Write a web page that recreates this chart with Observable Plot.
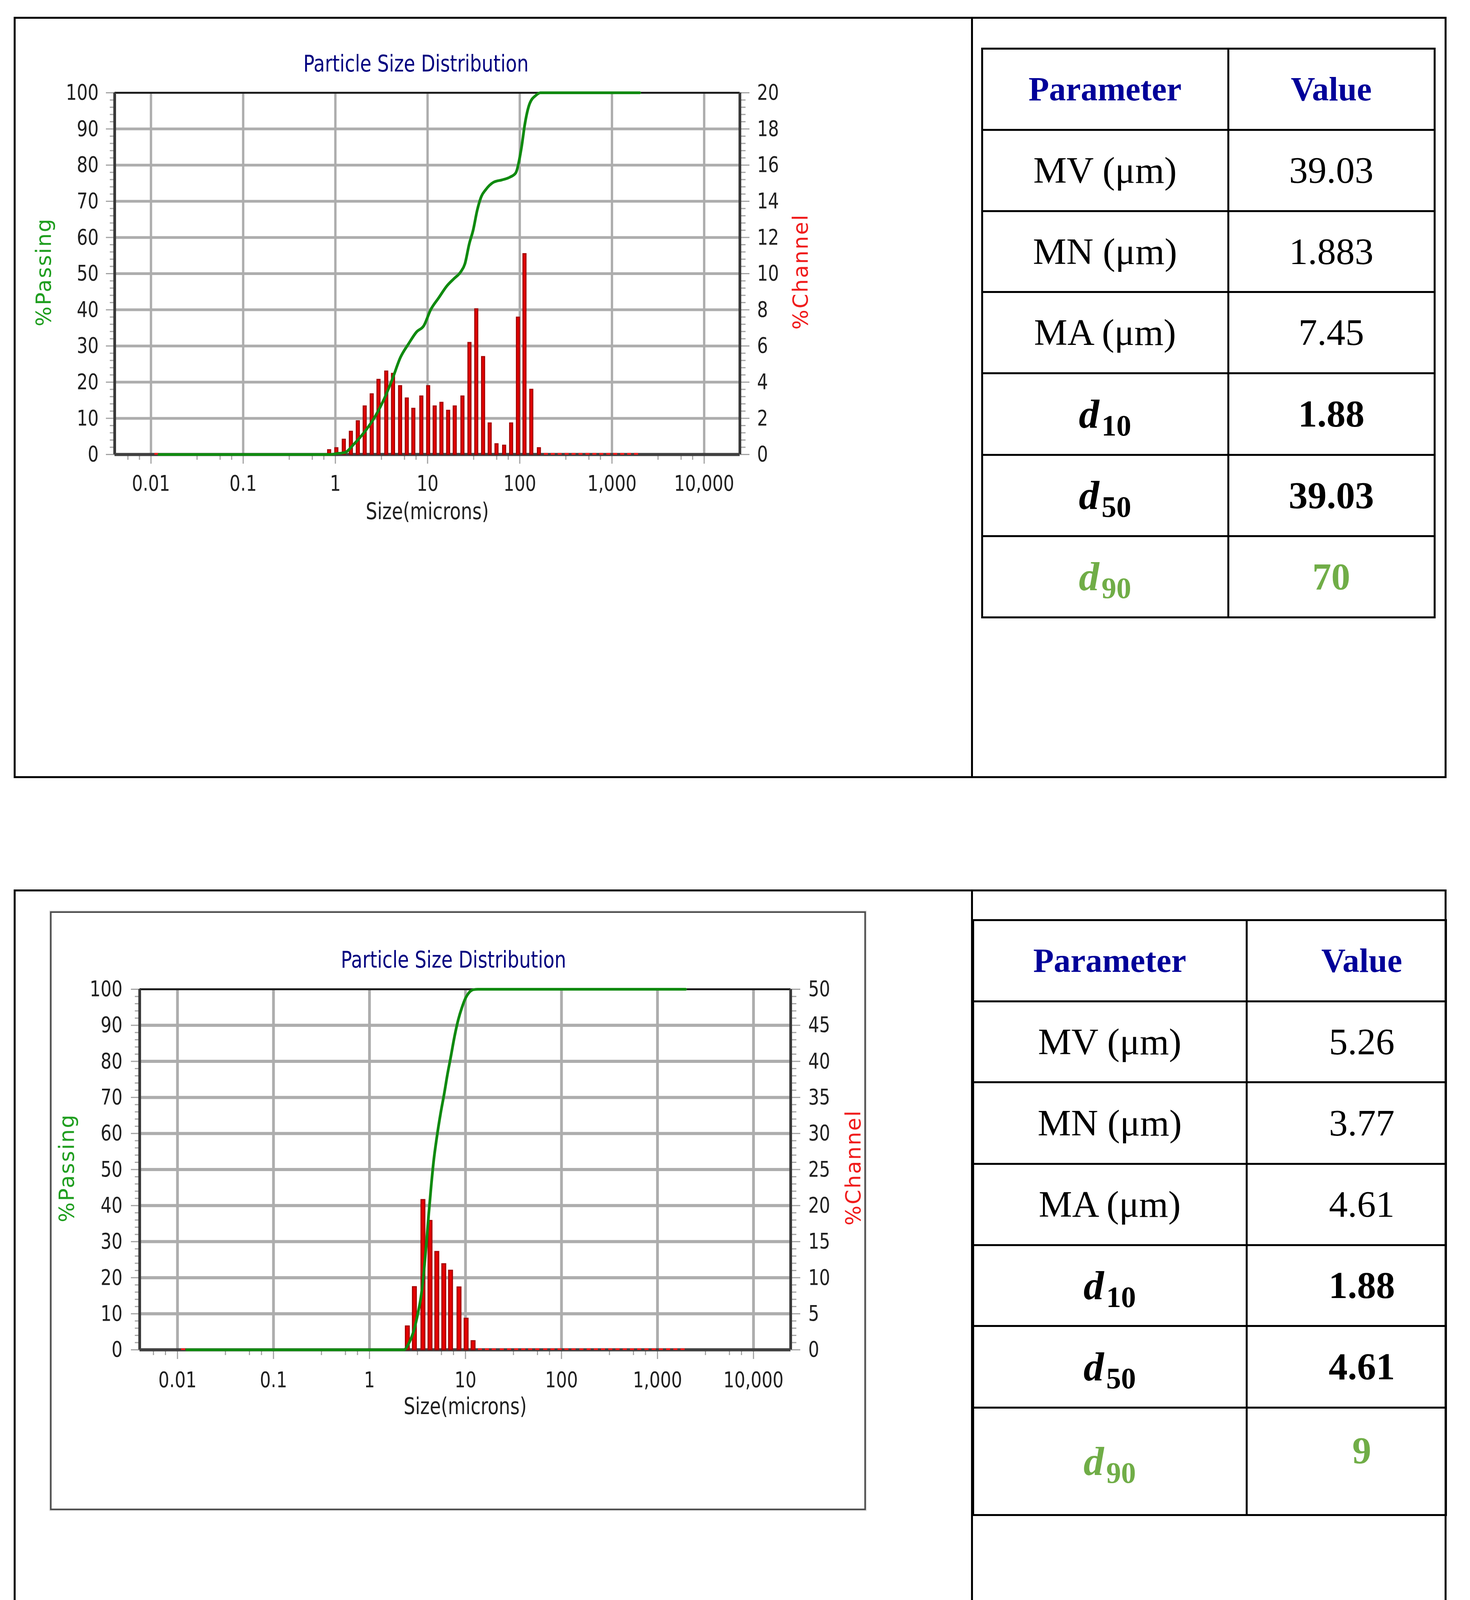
<!DOCTYPE html>
<html>
<head>
<meta charset="utf-8">
<script src="https://cdn.jsdelivr.net/npm/d3@7"></script>
<script src="https://cdn.jsdelivr.net/npm/@observablehq/plot@0.6"></script>
<style>
  html, body { margin: 0; padding: 0; background: #fff; }
  body { width: 3762px; height: 4276px; position: relative; overflow: hidden; }
  .abs { position: absolute; }
  .panel { position: absolute; border: 5px solid #000; box-sizing: border-box; }
  .ln { position: absolute; background: #000; }
  .cell { position: absolute; display: flex; align-items: center; justify-content: center;
          font-family: "Liberation Serif", "Times New Roman", serif; line-height: 1; color: #000; white-space: nowrap; }
  .hdr { font-weight: bold; color: #000099; font-size: 86px; }
  .reg { font-size: 96px; }
  .bold { font-weight: bold; font-size: 97px; }
  .dsym { font-style: italic; font-weight: bold; font-size: 104px; }
  .dsub { font-weight: bold; font-size: 76px; position: relative; top: 20px; margin-left: 6px; }
  .green { color: #70AD47; }
  .chartbox { position: absolute; border: 4px solid #4d4d4d; box-sizing: border-box; box-shadow: 0 0 2px 2px #d9d9d9; }
</style>
</head>
<body>
<script>
// ---------------- data ----------------
const xTickValues = [0.01, 0.1, 1, 10, 100, 1000, 10000];
const xTickLabels = ["0.01", "0.1", "1", "10", "100", "1,000", "10,000"];
const xMinorTicks = [0.00562, 0.0075, 0.0316, 0.0562, 0.075, 0.316, 0.562, 0.75, 3.16, 5.62, 7.5,
                     31.6, 56.2, 75, 316, 562, 750, 3160, 5620, 7500];
const passTicks = [0, 10, 20, 30, 40, 50, 60, 70, 80, 90, 100];
const passMinorTicks = [2, 4, 6, 8, 12, 14, 16, 18, 22, 24, 26, 28, 32, 34, 36, 38, 42, 44, 46, 48,
                        52, 54, 56, 58, 62, 64, 66, 68, 72, 74, 76, 78, 82, 84, 86, 88, 92, 94, 96, 98];
const channelTicks1 = [0, 2, 4, 6, 8, 10, 12, 14, 16, 18, 20];
const channelTicks2 = [0, 5, 10, 15, 20, 25, 30, 35, 40, 45, 50];

// chart 1 (top): %channel bars (right axis 0-20) and %passing curve (left axis 0-100)
const sizes1 = [0.86, 1.03, 1.24, 1.48, 1.76, 2.09, 2.49, 2.95, 3.58, 4.24, 5.06, 5.98, 7.04, 8.6, 10.2,
                12.0, 14.2, 16.8, 19.8, 24.0, 28.6, 33.9, 40.2, 47.4, 56.2, 68.0, 81.0, 96.0, 113, 134, 162];
const channel1 = [0.25, 0.36, 0.83, 1.27, 1.85, 2.67, 3.34, 4.14, 4.60, 4.47, 3.79, 3.11, 2.54, 3.22, 3.79,
                  2.67, 2.87, 2.43, 2.67, 3.22, 6.18, 8.04, 5.40, 1.73, 0.58, 0.50, 1.73, 7.58, 11.09, 3.59, 0.36];
const tailSizes1 = [0.0115, 193, 229, 272, 324, 385, 458, 545, 648, 771, 917, 1090, 1297, 1542, 1834];
const tailValue1 = 0.05;
const passSizes1 = [0.0122, 0.9, 1.0, 1.27, 1.58, 2.08, 2.74, 3.36, 4.13, 5.07, 6.22, 7.6, 9.1, 10.8, 13.2,
                    16.2, 19.3, 22.9, 25.4, 28.3, 31.2, 34.6, 38.4, 42.4, 52.2, 64, 78.6, 90.2, 105, 113,
                    128, 150, 167, 2000];
const passValues1 = [0, 0, 0.2, 0.55, 2.8, 6.3, 10.8, 15.2, 20.7, 26.8, 30.6, 33.9, 35.6, 40, 43.3,
                     46.6, 48.6, 50.5, 52.7, 58.2, 62, 67.6, 71.4, 73.1, 75.3, 75.9, 76.7, 77.8, 85.3, 91,
                     97, 99.3, 100, 100];

// chart 2 (bottom): %channel bars (right axis 0-50) and %passing curve
const sizes2 = [2.49, 2.95, 3.62, 4.29, 5.05, 5.97, 7.02, 8.6, 10.2, 12.05];
const channel2 = [3.27, 8.72, 20.8, 17.9, 13.6, 11.9, 11.0, 8.68, 4.34, 1.23];
const tailSizes2 = [0.0115, 14.2, 16.8, 19.8, 24.0, 28.6, 33.9, 40.2, 47.4, 56.2, 68, 81, 96, 113, 134, 162,
                    193, 229, 272, 324, 385, 458, 545, 648, 771, 917, 1090, 1297, 1542, 1834];
const tailValue2 = 0.12;
const passSizes2 = [0.0125, 2.28, 2.58, 2.93, 3.21, 3.42, 3.64, 3.88, 4.13, 4.39, 4.68, 5.0, 5.5, 6.0, 6.5,
                    7.0, 7.7, 8.4, 9.2, 10.0, 11.0, 12.2, 13.5, 1960];
const passValues2 = [0, 0, 1.9, 5.8, 10.4, 14.3, 20.2, 28.3, 37.3, 45.4, 52.8, 58.5, 65.5, 71, 76.5,
                     81, 87, 91.5, 95, 97.5, 99.2, 99.9, 100, 100];

// tables
const headerLabels = ["Parameter", "Value"];
const paramNames = ["MV (μm)", "MN (μm)", "MA (μm)"];
const dSubscripts = ["10", "50", "90"];
const values1 = ["39.03", "1.883", "7.45", "1.88", "39.03", "70"];
const values2 = ["5.26", "3.77", "4.61", "1.88", "4.61", "9"];
const chartTitle = "Particle Size Distribution";
const xLabel = "Size(microns)";
const leftLabel = "%Passing";
const rightLabel = "%Channel";

// ---------------- layout helpers ----------------
const xDomain = [0.00404, 24400];

function box(cls, x, y, w, h) {
  const d = document.createElement("div");
  d.className = cls;
  Object.assign(d.style, {left: x + "px", top: y + "px", width: w + "px", height: h + "px"});
  document.body.appendChild(d);
  return d;
}

function squeeze(svg, k) {
  svg.querySelectorAll("text").forEach(t => {
    const tr = t.getAttribute("transform") || "";
    if (!t.textContent) return;
    if (tr.includes("rotate")) { t.style.letterSpacing = "3px"; return; }
    const L = t.getComputedTextLength();
    if (L > 0) {
      t.setAttribute("textLength", (L * k).toFixed(1));
      t.setAttribute("lengthAdjust", "spacingAndGlyphs");
    }
  });
}

function drawChart(o) {
  const f = 100 / o.channelMax;
  const bars = o.sizes.map((s, i) => ({size: s, value: o.channel[i]}));
  const tails = o.tailSizes.map(s => ({size: s, value: o.tailValue}));
  const curve = o.passSizes.map((s, i) => ({size: s, pct: o.passValues[i]}));
  const xt = xTickValues.map((v, i) => ({v, label: xTickLabels[i]}));
  const font = "DejaVu Sans";
  const tickStyle = {tickFormat: () => "", stroke: "#a3a3a3", strokeWidth: 3, label: null};
  const svg = Plot.plot({
    width: o.width, height: o.height,
    marginLeft: o.ml, marginRight: o.mr, marginTop: o.mt, marginBottom: o.mb,
    x: {type: "log", domain: xDomain},
    y: {domain: [0, 100]},
    style: {background: "transparent", overflow: "visible", maxWidth: "none"},
    marks: [
      Plot.gridX(xTickValues, {stroke: "#adadad", strokeWidth: o.gx, strokeOpacity: 1}),
      Plot.gridY(passTicks.slice(1, -1), {stroke: "#adadad", strokeWidth: o.gy, strokeOpacity: 1}),
      Plot.axisX(xTickValues, {...tickStyle, tickSize: 24}),
      Plot.axisX(xMinorTicks, {...tickStyle, tickSize: 14}),
      Plot.axisY(passTicks, {...tickStyle, anchor: "left", tickSize: 22}),
      Plot.axisY(passMinorTicks, {...tickStyle, anchor: "left", tickSize: 12}),
      Plot.axisY(passTicks, {...tickStyle, anchor: "right", tickSize: 24}),
      Plot.axisY(passMinorTicks, {...tickStyle, anchor: "right", tickSize: 14}),
      Plot.ruleY([100], {stroke: "#1e1e1e", strokeWidth: 5}),
      Plot.ruleX([xDomain[0]], {stroke: "#3a3a3a", strokeWidth: 7}),
      Plot.ruleX([xDomain[1]], {stroke: "#3a3a3a", strokeWidth: 7}),
      Plot.ruleY([0], {stroke: "#404040", strokeWidth: 8}),
      Plot.rect(bars, {x1: d => d.size / o.barFactor, x2: d => d.size * o.barFactor,
                       y1: d => 0, y2: d => d.value * f,
                       fill: "#e60000", stroke: "#a50000", strokeWidth: 3}),
      Plot.rect(tails, {x1: d => d.size / 1.04, x2: d => d.size * 1.04,
                        y1: d => 0, y2: d => d.value * f,
                        fill: "#ff1a1a", stroke: "#ff1a1a", strokeWidth: 2}),
      Plot.line(curve, {x: "size", y: "pct", stroke: "#108a10", strokeWidth: 7, curve: "monotone-x"}),
      Plot.text(xt, {x: "v", text: "label", frameAnchor: "bottom", dy: o.xLabDy, lineAnchor: "middle",
                     textAnchor: "middle", fontSize: 55, fontFamily: font, fill: "#202020"}),
      Plot.text(passTicks, {y: d => d, text: d => `${d}`, frameAnchor: "left", dx: o.leftDx,
                            textAnchor: "end", lineAnchor: "middle", fontSize: 55, fontFamily: font, fill: "#202020"}),
      Plot.text(o.channelTicks, {y: d => d * f, text: d => `${d}`, frameAnchor: "right", dx: o.rightDx,
                                 textAnchor: "start", lineAnchor: "middle", fontSize: 55, fontFamily: font, fill: "#202020"}),
      Plot.text([chartTitle], {text: d => d, frameAnchor: "top", dy: o.titleDy, dx: o.titleDx,
                               textAnchor: "middle", lineAnchor: "middle", fontSize: 59, fontFamily: font, fill: "#00007f"}),
      Plot.text([xLabel], {text: d => d, frameAnchor: "bottom", dy: o.xTitleDy, textAnchor: "middle",
                           lineAnchor: "middle", fontSize: 58, fontFamily: font, fill: "#202020"}),
      Plot.text([leftLabel], {text: d => d, frameAnchor: "left", dx: o.passDx, dy: -4, rotate: -90,
                              textAnchor: "middle", lineAnchor: "middle", fontSize: 54, fontFamily: font, fill: "#1f9e1f"}),
      Plot.text([rightLabel], {text: d => d, frameAnchor: "right", dx: o.chanDx, dy: -5, rotate: -90,
                               textAnchor: "middle", lineAnchor: "middle", fontSize: 54, fontFamily: font, fill: "#f01c1c"})
    ]
  });
  const holder = box("abs", o.left, o.top, o.width, o.height);
  holder.appendChild(svg);
  squeeze(svg, 0.8);
}

function drawTable(t) {
  const T = 5;
  const top = t.rows[0], bottom = t.rows[t.rows.length - 1];
  t.rows.forEach(y => box("ln", t.left - T / 2, y - T / 2, t.right - t.left + T, T));
  [t.left, t.colX, t.right].forEach(x => box("ln", x - T / 2, top - T / 2, T, bottom - top + T));
  const cell = (x0, x1, r, html, cls, extra) => {
    const c = box("cell " + cls, x0, t.rows[r], x1 - x0, t.rows[r + 1] - t.rows[r]);
    c.innerHTML = `<span>${html}</span>`;
    if (extra) Object.assign(c.style, extra);
    return c;
  };
  const valPad = {paddingLeft: t.valPad + "px", boxSizing: "border-box"};
  cell(t.left, t.colX, 0, headerLabels[0], "hdr");
  cell(t.colX, t.right, 0, headerLabels[1], "hdr", valPad);
  paramNames.forEach((p, i) => {
    cell(t.left, t.colX, i + 1, p, "reg");
    cell(t.colX, t.right, i + 1, t.values[i], "reg", valPad);
  });
  dSubscripts.forEach((s, i) => {
    const r = i + 4;
    const g = i === 2 ? " green" : "";
    cell(t.left, t.colX, r, `<span class="dsym">d</span><span class="dsub">${s}</span>`, "bold" + g);
    const v = cell(t.colX, t.right, r, t.values[i + 3], "bold" + g, valPad);
    if (i === 2 && t.lastShift) {
      v.firstChild.style.position = "relative";
      v.firstChild.style.top = t.lastShift + "px";
    }
  });
}

// ---------------- page ----------------
box("panel", 35, 43, 3667, 1949);
box("ln", 2485, 43, 5, 1949);
box("panel", 35, 2277, 3667, 1968);
box("ln", 2485, 2277, 5, 1968);
box("chartbox", 128, 2333, 2088, 1533);

drawChart({
  left: 50, top: 60, width: 2400, height: 1340, ml: 243, mr: 557, mt: 177, mb: 237,
  sizes: sizes1, channel: channel1, tailSizes: tailSizes1, tailValue: tailValue1,
  passSizes: passSizes1, passValues: passValues1, channelTicks: channelTicks1, channelMax: 20,
  barFactor: 1.037, gx: 6, gy: 7,
  xLabDy: 75, leftDx: -41, rightDx: 44, titleDy: -73, titleDx: -29, xTitleDy: 147,
  passDx: -181, chanDx: 156
});

drawChart({
  left: 140, top: 2345, width: 2070, height: 1480, ml: 217, mr: 187, mt: 187, mb: 370,
  sizes: sizes2, channel: channel2, tailSizes: tailSizes2, tailValue: tailValue2,
  passSizes: passSizes2, passValues: passValues2, channelTicks: channelTicks2, channelMax: 50,
  barFactor: 1.046, gx: 7, gy: 8,
  xLabDy: 78, leftDx: -44, rightDx: 45, titleDy: -74, titleDx: -30, xTitleDy: 146,
  passDx: -186, chanDx: 161
});

drawTable({left: 2513, colX: 3143, right: 3671,
           rows: [124, 332, 540, 747, 955, 1164, 1372, 1580], values: values1, valPad: 0, lastShift: 0});
drawTable({left: 2490, colX: 3190, right: 3700,
           rows: [2355, 2563, 2770, 2979, 3187, 3394, 3603, 3878], values: values2, valPad: 80, lastShift: -27});
</script>
</body>
</html>
